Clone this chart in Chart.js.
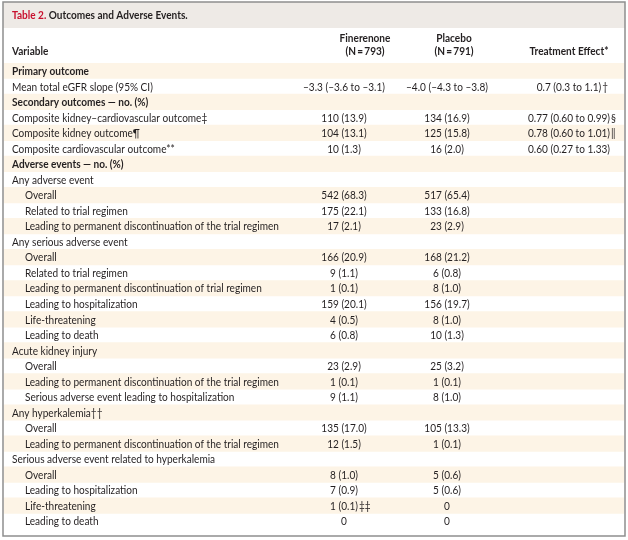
<!DOCTYPE html>
<html>
<head>
<meta charset="utf-8">
<script src="https://cdn.jsdelivr.net/npm/chart.js@4"></script>
<style>
  html, body { margin: 0; padding: 0; background: #fff; }
  #wrap { width: 628px; height: 540px; }
</style>
</head>
<body>
<div id="wrap"><canvas id="outcomesTable" width="628" height="540"></canvas></div>
<script>
// Table data
const tableTitle = 'Table 2.';
const tableSubtitle = 'Outcomes and Adverse Events.';
const headers = ['Variable', 'Finerenone', '(N\u2009=\u2009793)', 'Placebo', '(N\u2009=\u2009791)', 'Treatment Effect*'];

const variables = [
    'Primary outcome',
    'Mean total eGFR slope (95% CI)',
    'Secondary outcomes \u2014 no. (%)',
    'Composite kidney\u2013cardiovascular outcome\u2021',
    'Composite kidney outcome\u00b6',
    'Composite cardiovascular outcome**',
    'Adverse events \u2014 no. (%)',
    'Any adverse event',
    'Overall',
    'Related to trial regimen',
    'Leading to permanent discontinuation of the trial regimen',
    'Any serious adverse event',
    'Overall',
    'Related to trial regimen',
    'Leading to permanent discontinuation of trial regimen',
    'Leading to hospitalization',
    'Life-threatening',
    'Leading to death',
    'Acute kidney injury',
    'Overall',
    'Leading to permanent discontinuation of the trial regimen',
    'Serious adverse event leading to hospitalization',
    'Any hyperkalemia\u2020\u2020',
    'Overall',
    'Leading to permanent discontinuation of the trial regimen',
    'Serious adverse event related to hyperkalemia',
    'Overall',
    'Leading to hospitalization',
    'Life-threatening',
    'Leading to death'
];

const finerenone = [
    '', '\u20133.3 (\u20133.6 to \u20133.1)', '',
    '110 (13.9)', '104 (13.1)', '10 (1.3)', '',
    '', '542 (68.3)', '175 (22.1)', '17 (2.1)',
    '', '166 (20.9)', '9 (1.1)', '1 (0.1)', '159 (20.1)', '4 (0.5)', '6 (0.8)',
    '', '23 (2.9)', '1 (0.1)', '9 (1.1)',
    '', '135 (17.0)', '12 (1.5)',
    '', '8 (1.0)', '7 (0.9)', '1 (0.1)', '0'
];

const placebo = [
    '', '\u20134.0 (\u20134.3 to \u20133.8)', '',
    '134 (16.9)', '125 (15.8)', '16 (2.0)', '',
    '', '517 (65.4)', '133 (16.8)', '23 (2.9)',
    '', '168 (21.2)', '6 (0.8)', '8 (1.0)', '156 (19.7)', '8 (1.0)', '10 (1.3)',
    '', '25 (3.2)', '1 (0.1)', '8 (1.0)',
    '', '105 (13.3)', '1 (0.1)',
    '', '5 (0.6)', '5 (0.6)', '0', '0'
];

const treatmentEffect = [
    '', '0.7 (0.3 to 1.1)', '',
    '0.77 (0.60 to 0.99)', '0.78 (0.60 to 1.01)', '0.60 (0.27 to 1.33)', '',
    '', '', '', '',
    '', '', '', '', '', '', '',
    '', '', '', '',
    '', '', '',
    '', '', '', '', ''
];

// footnote marks hung after a centred cell
const finerenoneNotes = {28: '\u2021\u2021'};
const effectNotes = {1: '\u2020', 3: '\u00a7', 4: '\u2016'};

const sectionRows = [0, 2, 6];
const subRows = [8, 9, 10, 12, 13, 14, 15, 16, 17, 19, 20, 21, 23, 24, 26, 27, 28, 29];

// Layout (canvas pixels along the hidden x scale)
const colX = { label: 12, indent: 25, fin: 344, plac: 447, effect: 569 };
const headX = { fin: 365, plac: 454, effect: 569 };
const FONT = 'Lato, "Open Sans", sans-serif';
const TEXT = '#231f20';
const SIZE = 11.5;
const SQUEEZE = 0.875; // Lato is wider than the journal face

function font(bold, size) {
    return (bold ? 'bold ' : '') + (size || SIZE) + 'px ' + FONT;
}

// draw text narrowed horizontally, returns drawn width
function drawText(ctx, txt, x, y, align) {
    const w = ctx.measureText(txt).width * SQUEEZE;
    let left = x;
    if (align === 'center') left = x - w / 2;
    if (align === 'right') left = x - w;
    ctx.save();
    ctx.translate(left, y);
    ctx.scale(SQUEEZE, 1);
    ctx.textAlign = 'left';
    ctx.fillText(txt, 0, 0);
    ctx.restore();
    return w;
}

const framePlugin = {
    id: 'frame',
    beforeDraw(chart) {
        const ctx = chart.ctx;
        ctx.save();
        ctx.fillStyle = '#ffffff';
        ctx.fillRect(0, 0, chart.width, chart.height);
        // title band
        ctx.fillStyle = '#eeeae6';
        ctx.fillRect(3, 2, 622, 26);
        ctx.restore();
    },
    afterDraw(chart) {
        const ctx = chart.ctx;
        ctx.save();
        ctx.strokeStyle = '#8e8e8e';
        ctx.lineWidth = 1.5;
        ctx.strokeRect(3, 2, 622, 534);
        ctx.restore();
    }
};

const cellPlugin = {
    id: 'cells',
    afterDatasetsDraw(chart) {
        const ctx = chart.ctx;
        const x = chart.scales.x;
        const y = chart.scales.y;
        const rowH = y.getPixelForValue(1) - y.getPixelForValue(0);
        ctx.save();
        ctx.textBaseline = 'middle';
        ctx.fillStyle = TEXT;

        // title
        ctx.font = font(true, 11.5);
        ctx.fillStyle = '#c8102e';
        const tw = drawText(ctx, tableTitle + ' ', x.getPixelForValue(colX.label), 15, 'left');
        ctx.fillStyle = TEXT;
        drawText(ctx, tableSubtitle, x.getPixelForValue(colX.label) + tw, 15, 'left');

        // column headers
        const top = y.getPixelForValue(0);
        const h1 = top - rowH * 2.1;
        const h2 = top - rowH * 1.25;
        ctx.font = font(true);
        drawText(ctx, headers[0], x.getPixelForValue(colX.label), h2, 'left');
        drawText(ctx, headers[1], x.getPixelForValue(headX.fin), h1, 'center');
        drawText(ctx, headers[2], x.getPixelForValue(headX.fin), h2, 'center');
        drawText(ctx, headers[3], x.getPixelForValue(headX.plac), h1, 'center');
        drawText(ctx, headers[4], x.getPixelForValue(headX.plac), h2, 'center');
        drawText(ctx, headers[5], x.getPixelForValue(headX.effect), h2, 'center');

        // body
        variables.forEach((label, i) => {
            const py = y.getPixelForValue(i) + 0.5;
            ctx.font = font(sectionRows.includes(i));
            const lx = subRows.includes(i) ? colX.indent : colX.label;
            drawText(ctx, label, x.getPixelForValue(lx), py, 'left');

            ctx.font = font(false);
            [[finerenone, colX.fin, finerenoneNotes], [placebo, colX.plac, {}], [treatmentEffect, colX.effect, effectNotes]]
                .forEach(([col, cx, notes]) => {
                    const txt = col[i];
                    if (!txt) return;
                    const px = x.getPixelForValue(cx);
                    const w = drawText(ctx, txt, px, py, 'center');
                    if (notes[i]) {
                        drawText(ctx, notes[i], px + w / 2 + 1, py, 'left');
                    }
                });
        });
        ctx.restore();
    }
};

// shaded bands on alternate rows, spanning the frame
const bands = variables.map((v, i) => (i % 2 === 0 ? [4, 624] : null));

new Chart(document.getElementById('outcomesTable').getContext('2d'), {
    type: 'bar',
    data: {
        labels: variables,
        datasets: [{
            data: bands,
            backgroundColor: '#fdf4e6',
            borderWidth: 0,
            barPercentage: 1,
            categoryPercentage: 1
        }]
    },
    options: {
        indexAxis: 'y',
        responsive: false,
        animation: false,
        events: [],
        layout: { padding: { top: 63, bottom: 11, left: 0, right: 0 } },
        plugins: {
            legend: { display: false },
            tooltip: { enabled: false },
            title: { display: false }
        },
        scales: {
            x: { type: 'linear', min: 0, max: 628, display: false },
            y: { type: 'category', display: false, offset: true }
        }
    },
    plugins: [framePlugin, cellPlugin]
});
</script>
</body>
</html>
